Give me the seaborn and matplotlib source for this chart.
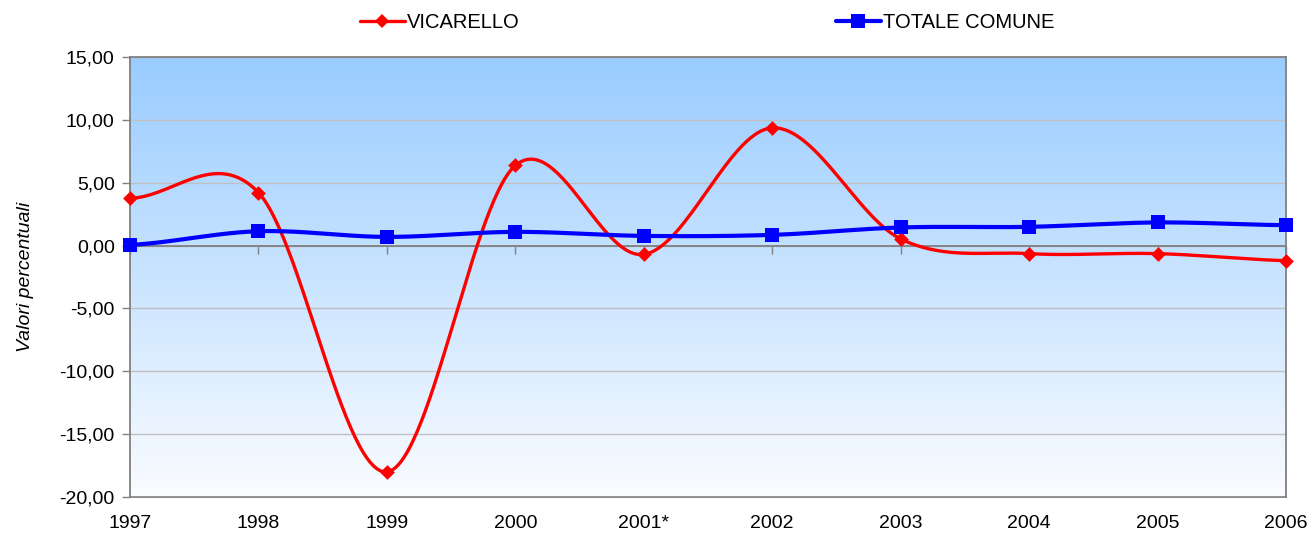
import numpy as np
import pandas as pd
import matplotlib
matplotlib.use("Agg")
import matplotlib.pyplot as plt
from matplotlib.lines import Line2D
import seaborn as sns

# ---- data ----
years = ["1997", "1998", "1999", "2000", "2001*", "2002", "2003", "2004", "2005", "2006"]
vicarello = [3.76, 4.21, -18.0, 6.37, -0.70, 9.36, 0.53, -0.64, -0.64, -1.20]
totale_comune = [0.05, 1.14, 0.69, 1.09, 0.77, 0.85, 1.44, 1.49, 1.84, 1.62]
series_names = ["VICARELLO", "TOTALE COMUNE"]
y_ticks = [-20, -15, -10, -5, 0, 5, 10, 15]
y_label = "Valori percentuali"

sns.set_theme(style="white")
plt.rcParams["font.family"] = ["Liberation Sans", "DejaVu Sans"]
plt.rcParams["text.color"] = "black"
plt.rcParams["xtick.color"] = "black"
plt.rcParams["ytick.color"] = "black"
plt.rcParams["axes.labelcolor"] = "black"

FS = 14
LFS = 14.5


def excel_smooth(vals, n=60):
    """Excel-style smoothed line (cubic Bezier with 1/6 tangents)."""
    p = np.asarray(vals, dtype=float)
    m = len(p)
    xs, ys = [], []
    for i in range(m - 1):
        pm1 = p[i - 1] if i > 0 else p[i]
        pp2 = p[i + 2] if i + 2 < m else p[i + 1]
        c1 = p[i] + (p[i + 1] - pm1) / 6.0
        c2 = p[i + 1] - (pp2 - p[i]) / 6.0
        t = np.linspace(0, 1, n, endpoint=(i == m - 2))
        y = ((1 - t) ** 3 * p[i] + 3 * (1 - t) ** 2 * t * c1
             + 3 * (1 - t) * t ** 2 * c2 + t ** 3 * p[i + 1])
        xs.append(i + t)
        ys.append(y)
    return np.concatenate(xs), np.concatenate(ys)


fig = plt.figure(figsize=(13.11, 5.33), dpi=100)
ax = fig.add_axes([130 / 1311, 1 - 497 / 533, (1286 - 130) / 1311, (497 - 57) / 533])

ax.set_xlim(0, len(years) - 1)
ax.set_ylim(-20, 15)

# gradient background
grad = np.linspace(0, 1, 256).reshape(-1, 1)
top = np.array([153, 204, 255]) / 255.0
bot = np.array([250, 252, 255]) / 255.0
img = top[None, None, :] * (1 - grad[:, :, None]) + bot[None, None, :] * grad[:, :, None]
ax.imshow(img, extent=[0, len(years) - 1, -20, 15], aspect="auto", zorder=0,
          origin="upper", interpolation="bilinear")

# grid
for yt in y_ticks:
    ax.axhline(yt, color="#c0c0c0", lw=1.0, zorder=1)

x_idx = np.arange(len(years))
colors = ["#ff0000", "#0000ff"]
markers = ["D", "s"]
msizes = [7.5, 10]
lws = [2.4, 3.0]
for vals, col, mk, ms, lw, name in zip([vicarello, totale_comune], colors, markers, msizes, lws, series_names):
    sx, sy = excel_smooth(vals)
    sns.lineplot(x=sx, y=sy, ax=ax, color=col, lw=lw, estimator=None, sort=False, zorder=3)
    df = pd.DataFrame({"x": x_idx, "y": vals})
    sns.scatterplot(data=df, x="x", y="y", ax=ax, color=col, marker=mk, s=ms ** 2,
                    edgecolor=col, linewidth=0, zorder=4, clip_on=False)

# axes styling
for s in ["top", "right", "left"]:
    ax.spines[s].set_color("#808080")
    ax.spines[s].set_linewidth(1.3)
ax.spines["bottom"].set_position(("data", 0))
ax.spines["bottom"].set_color("#808080")
ax.spines["bottom"].set_linewidth(1.3)
ax.spines["bottom"].set_zorder(2)

ax.set_xticks(x_idx)
ax.set_xticklabels([])
ax.tick_params(axis="x", direction="out", length=6, color="#808080", width=1.0, bottom=True)

sec = ax.secondary_xaxis("bottom")
sec.set_xticks(x_idx)
sec.set_xticklabels(years, fontsize=FS)
sec.tick_params(length=0, pad=13)
sec.spines["bottom"].set_color("#808080")
sec.spines["bottom"].set_linewidth(1.3)

ax.set_yticks(y_ticks)
ax.set_yticklabels([f"{v:.2f}".replace(".", ",") for v in y_ticks], fontsize=FS)
ax.tick_params(axis="y", direction="out", length=6, color="#808080", width=1.0, left=True, pad=5)
ax.set_xlabel("")
ax.set_ylabel(y_label, fontsize=FS, style="italic", labelpad=18)

handles = [Line2D([0], [0], color=c, lw=lw, marker=m, markersize=ms, markeredgewidth=0)
           for c, m, ms, lw in zip(colors, markers, msizes, lws)]
fig.legend(handles, series_names, loc="center", bbox_to_anchor=(707 / 1311, 1 - 23 / 533),
           ncol=2, frameon=False, fontsize=LFS, handlelength=2.25, handletextpad=0.1,
           columnspacing=15.7)

fig.savefig("out.png", dpi=100)
